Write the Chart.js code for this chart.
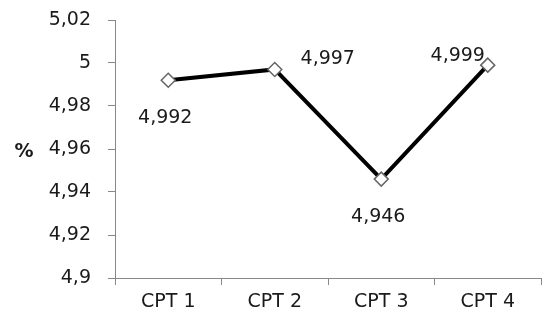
<!DOCTYPE html>
<html>
<head>
<meta charset="utf-8">
<script src="https://cdn.jsdelivr.net/npm/chart.js@4.4.1/dist/chart.umd.min.js"></script>
<style>
    html, body { margin: 0; padding: 0; background: #fff; }
    #wrap { width: 544px; height: 325px; }
</style>
</head>
<body>
<div id="wrap"><canvas id="cptChart" width="544" height="325"></canvas></div>
<script>
const categories = ['CPT 1', 'CPT 2', 'CPT 3', 'CPT 4'];
const percentValues = [4.992, 4.997, 4.946, 4.999];
const yTickValues = [4.9, 4.92, 4.94, 4.96, 4.98, 5, 5.02];

const FONT = 'DejaVu Sans';
const fmt = v => String(+v.toFixed(3)).replace('.', ',');

// label placement like Excel: below, right, below, left
const labelOffsets = [[-3, 38], [53, -10], [-3, 38], [-30, -9]];

const valueLabels = {
    id: 'valueLabels',
    afterDatasetsDraw(chart) {
        const ctx = chart.ctx;
        const meta = chart.getDatasetMeta(0);
        ctx.save();
        ctx.font = '19px "' + FONT + '"';
        ctx.fillStyle = '#1a1a1a';
        ctx.textAlign = 'center';
        ctx.textBaseline = 'middle';
        meta.data.forEach((pt, i) => {
            const off = labelOffsets[i];
            ctx.fillText(fmt(percentValues[i]), pt.x + off[0], pt.y + off[1]);
        });
        // y axis title, horizontal
        ctx.font = 'bold 19px "' + FONT + '"';
        ctx.fillText('%', 24, 152);
        ctx.restore();
    }
};

const ctx = document.getElementById('cptChart').getContext('2d');
new Chart(ctx, {
    type: 'line',
    data: {
        labels: categories,
        datasets: [{
            data: percentValues,
            borderColor: '#000',
            borderWidth: 4,
            fill: false,
            tension: 0,
            pointStyle: 'rectRot',
            pointRadius: 7,
            pointBackgroundColor: '#fff',
            pointBorderColor: '#666',
            pointBorderWidth: 1.5
        }]
    },
    options: {
        responsive: false,
        animation: false,
        layout: { autoPadding: false, padding: { top: 20, right: 3, left: 0, bottom: 0 } },
        plugins: {
            legend: { display: false },
            tooltip: { enabled: false }
        },
        scales: {
            x: {
                offset: true,
                grid: { offset: true, drawOnChartArea: false, tickLength: 7, color: '#888' },
                border: { color: '#888', width: 1 },
                ticks: { color: '#1a1a1a', font: { family: FONT, size: 19 }, padding: 6 },
                afterFit(scale) {
                    scale.height = 47;
                    scale.paddingLeft = 0;
                    scale.paddingRight = 0;
                }
            },
            y: {
                min: 4.9,
                max: 5.02,
                afterBuildTicks(scale) { scale.ticks = yTickValues.map(v => ({ value: v })); },
                grid: { drawOnChartArea: false, tickLength: 7, color: '#888' },
                border: { color: '#888', width: 1 },
                ticks: {
                    color: '#1a1a1a',
                    font: { family: FONT, size: 19 },
                    padding: 17,
                    callback: v => fmt(v)
                },
                afterFit(scale) {
                    scale.width = 115;
                    scale.paddingTop = 0;
                    scale.paddingBottom = 0;
                }
            }
        }
    },
    plugins: [valueLabels]
});
</script>
</body>
</html>
